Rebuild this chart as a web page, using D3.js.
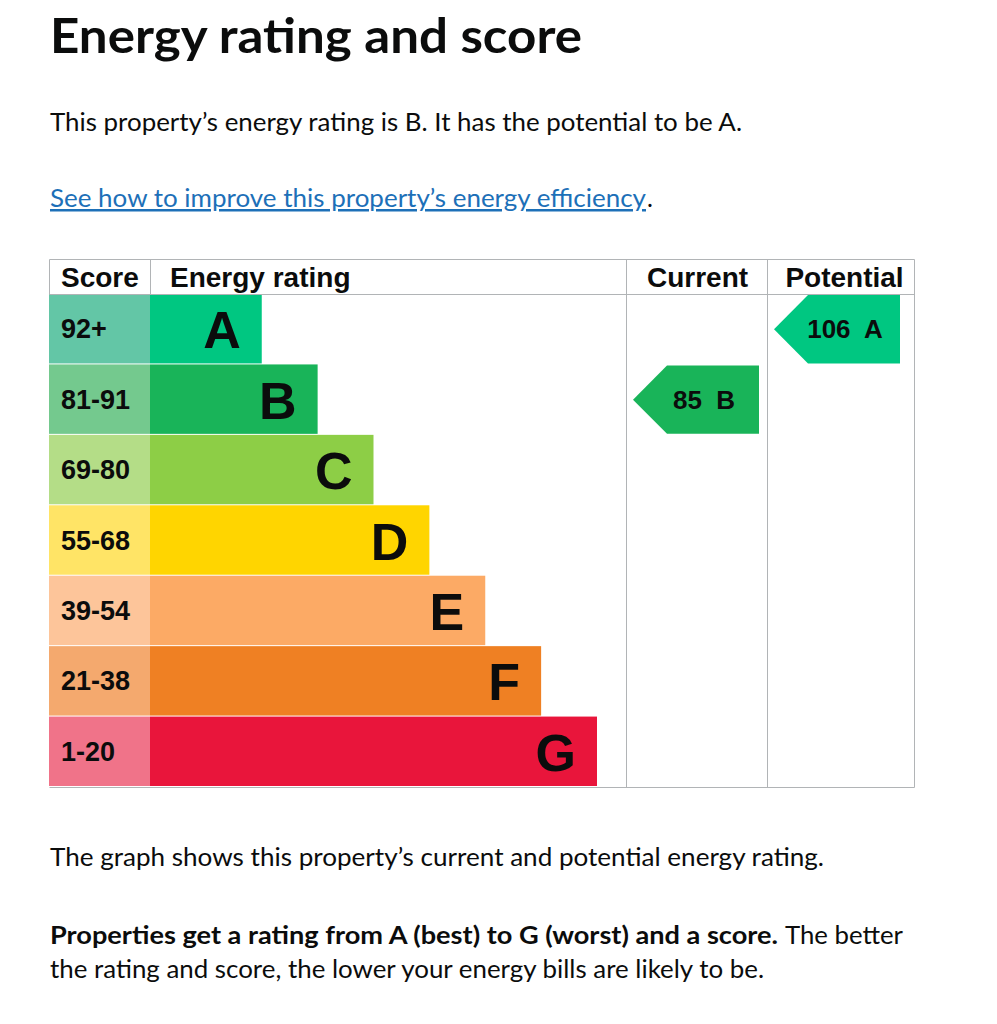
<!DOCTYPE html>
<html>
<head>
<meta charset="utf-8">
<script src="https://cdn.jsdelivr.net/npm/d3@7"></script>
<style>
  body { margin: 0; background: #fff; }
  text { white-space: pre; }
</style>
</head>
<body>
<svg id="svg"></svg>
<script>
// energy rating chart, drawn with d3

const bands = ["A", "B", "C", "D", "E", "F", "G"];
const scoreRanges = ["92+", "81-91", "69-80", "55-68", "39-54", "21-38", "1-20"];
const barUnits = [2, 3, 4, 5, 6, 7, 8];
const barColors = ["#00c781", "#19b459", "#8dce46", "#ffd500", "#fcaa65", "#ef8023", "#e9153b"];
const scoreColors = ["#63c6a6", "#74c98e", "#b4dd87", "#ffe466", "#fdc59a", "#f4a96e", "#f07389"];

const ratingColumns = ["Current", "Potential"];
const ratingScores = [85, 106];
const ratingBands = ["B", "A"];

const w = 997;
const h = 1024;

const svg = d3.select("#svg")
  .attr("width", w)
  .attr("height", h);

const chartFont = "'Liberation Sans', Arial, sans-serif";
const bodyFont = "Lato, 'Noto Sans', sans-serif";

// plain text lines
function line(x, y, str, size, weight, fill, len) {
  const t = svg.append("text")
    .attr("x", x)
    .attr("y", y)
    .attr("font-family", bodyFont)
    .attr("font-size", size)
    .attr("font-weight", weight)
    .attr("fill", fill)
    .text(str);
  if (len) t.attr("textLength", len).attr("lengthAdjust", "spacingAndGlyphs");
  return t;
}

line(50, 53, "Energy rating and score", 48, 700, "#0b0c0c", 532);
line(50, 131, "This property\u2019s energy rating is B. It has the potential to be A.", 25, 400, "#0b0c0c", 692);
line(50, 207, "See how to improve this property\u2019s energy efficiency", 25, 400, "#1d70b8", 596)
  .attr("text-decoration", "underline");
line(647, 207, ".", 25, 400, "#0b0c0c");

// layout of the table
const tTop = 259, headH = 35, tBottom = 787;
const tLeft = 49, scoreW = 101, tRight = 914;
const colX = [626, 767, 914]; // current / potential column edges

const y = d3.scaleBand()
  .domain(bands)
  .range([tTop + headH, tBottom]);

const x = d3.scaleLinear()
  .domain([0, 8])
  .range([tLeft + scoreW, tLeft + scoreW + 447]);

const grid = "#b1b4b6";

// header
const headers = [
  {label: "Score", x: tLeft + 12, anchor: "start"},
  {label: "Energy rating", x: tLeft + scoreW + 20, anchor: "start"},
  {label: ratingColumns[0], x: (colX[0] + colX[1]) / 2 + 1, anchor: "middle"},
  {label: ratingColumns[1], x: (colX[1] + colX[2]) / 2 + 4, anchor: "middle"}
];

svg.selectAll(".head")
  .data(headers)
  .enter()
  .append("text")
  .attr("class", "head")
  .attr("x", d => d.x)
  .attr("y", tTop + 28)
  .attr("text-anchor", d => d.anchor)
  .attr("font-family", chartFont)
  .attr("font-weight", 700)
  .attr("font-size", 28)
  .attr("fill", "#0b0c0c")
  .text(d => d.label);

// score cells
svg.selectAll(".score")
  .data(bands)
  .enter()
  .append("rect")
  .attr("class", "score")
  .attr("x", tLeft)
  .attr("y", d => y(d))
  .attr("width", scoreW)
  .attr("height", y.bandwidth() - 1)
  .attr("fill", (d, i) => scoreColors[i]);

svg.selectAll(".scoreLabel")
  .data(scoreRanges)
  .enter()
  .append("text")
  .attr("class", "scoreLabel")
  .attr("x", tLeft + 12)
  .attr("y", (d, i) => y(bands[i]) + y.bandwidth() / 2 + 9)
  .attr("font-family", chartFont)
  .attr("font-weight", 700)
  .attr("font-size", 27)
  .attr("fill", "#0b0c0c")
  .text(d => d);

// rating bars
svg.selectAll(".bar")
  .data(bands)
  .enter()
  .append("rect")
  .attr("class", "bar")
  .attr("x", x(0))
  .attr("y", d => y(d))
  .attr("width", (d, i) => x(barUnits[i]) - x(0))
  .attr("height", y.bandwidth() - 1)
  .attr("fill", (d, i) => barColors[i]);

svg.selectAll(".barLabel")
  .data(bands)
  .enter()
  .append("text")
  .attr("class", "barLabel")
  .attr("x", (d, i) => x(barUnits[i]) - 21)
  .attr("y", d => y(d) + y.bandwidth() / 2 + 19)
  .attr("text-anchor", "end")
  .attr("font-family", chartFont)
  .attr("font-weight", 700)
  .attr("font-size", 52)
  .attr("fill", "#0b0c0c")
  .text(d => d);

// grid lines
const gridLines = [
  [tLeft, tTop, tRight, tTop],
  [tLeft, tTop + headH, tRight, tTop + headH],
  [tLeft, tBottom, tRight, tBottom],
  [tLeft, tTop, tLeft, tTop + headH],
  [tLeft + scoreW, tTop, tLeft + scoreW, tTop + headH],
  [colX[0], tTop, colX[0], tBottom],
  [colX[1], tTop, colX[1], tBottom],
  [colX[2], tTop, colX[2], tBottom]
];

svg.selectAll(".grid")
  .data(gridLines)
  .enter()
  .append("line")
  .attr("class", "grid")
  .attr("x1", d => d[0] + 0.5)
  .attr("y1", d => d[1] + 0.5)
  .attr("x2", d => d[2] + 0.5)
  .attr("y2", d => d[3] + 0.5)
  .attr("stroke", grid)
  .attr("stroke-width", 1);

// current and potential arrows
const arrowW = 126, tip = 34;
const arrowData = ratingScores.map((s, i) => ({
  score: s,
  band: ratingBands[i],
  x0: colX[i] + 7
}));

const arrows = svg.selectAll(".arrow")
  .data(arrowData)
  .enter()
  .append("g")
  .attr("class", "arrow")
  .attr("transform", d => "translate(" + d.x0 + "," + (y(d.band) + 1) + ")");

const ah = y.bandwidth() - 2;

arrows.append("polygon")
  .attr("points", d => [
    [0, ah / 2], [tip, 0], [arrowW, 0], [arrowW, ah], [tip, ah]
  ].map(p => p.join(",")).join(" "))
  .attr("fill", d => barColors[bands.indexOf(d.band)]);

arrows.append("text")
  .attr("x", 71)
  .attr("y", ah / 2 + 9)
  .attr("text-anchor", "middle")
  .attr("font-family", chartFont)
  .attr("font-weight", 700)
  .attr("font-size", 26)
  .attr("fill", "#0b0c0c")
  .text(d => d.score + "  " + d.band);

// text below the chart
line(50, 866, "The graph shows this property\u2019s current and potential energy rating.", 25, 400, "#0b0c0c", 774);
line(50, 944, "Properties get a rating from A (best) to G (worst) and a score.", 25, 700, "#0b0c0c", 728);
line(785, 944, "The better", 25, 400, "#0b0c0c", 118);
line(50, 978, "the rating and score, the lower your energy bills are likely to be.", 25, 400, "#0b0c0c", 714);
</script>
</body>
</html>
